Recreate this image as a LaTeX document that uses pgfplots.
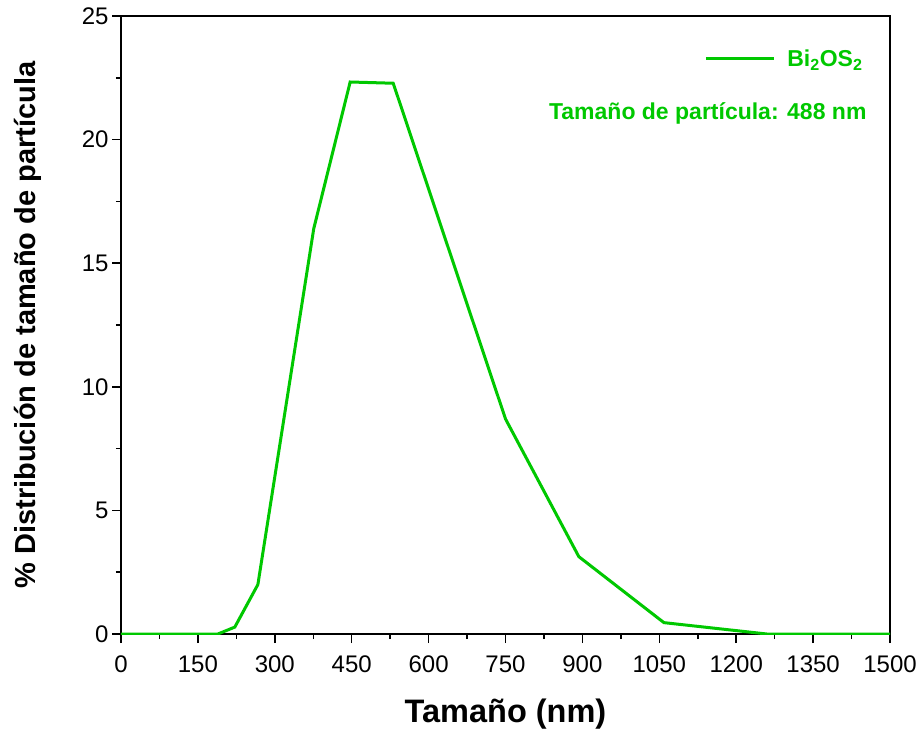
\documentclass[border=0pt]{standalone}
\usepackage{fontspec}
\setmainfont{Liberation Sans}
\usepackage{pgfplots}
\pgfplotsset{compat=1.18}
\usetikzlibrary{calc}
\definecolor{lgreen}{RGB}{0,200,0}

\begin{document}
\begin{tikzpicture}
\begin{axis}[
    name=ax,
    scale only axis,
    width=769pt, height=618pt,
    xmin=0, xmax=1500, ymin=0, ymax=25,
    xtick={0,150,...,1500},
    ytick={0,5,...,25},
    minor x tick num=1,
    minor y tick num=1,
    tick align=outside,
    xtick pos=bottom, ytick pos=left,
    major tick length=9pt, minor tick length=5pt,
    tick style={black, line width=1.5pt},
    axis line style={line width=1.5pt},
    /pgf/number format/assume math mode=true,
    /pgf/number format/1000 sep={},
    ticklabel style={font=\fontsize{24}{26}\selectfont},
    xticklabel style={yshift=-9pt},
    xlabel={\textbf{Tamaño (nm)}},
    ylabel={\textbf{\% Distribución de tamaño de partícula}},
    xlabel style={font=\fontsize{32.5}{34}\selectfont},
    ylabel style={font=\fontsize{29}{32}\selectfont},
    xlabel shift=20pt,
    ylabel shift=33pt,
    legend style={at={(rel axis cs:0.971,0.952)}, anchor=north east, draw=none, fill=none,
        font=\fontsize{23}{25}\selectfont\bfseries, text=lgreen},
    legend cell align=left,
    legend image code/.code={\draw[#1] (0pt,0pt) -- (68pt,0pt); \path (78pt,0pt);},
]
\addplot[lgreen, line width=3pt] coordinates {
    (0,0) (189,0) (222,0.28) (267,2.0) (376,16.4) (447,22.33) (531,22.28)
    (750,8.7) (893,3.13) (1059,0.46) (1260,0) (1500,0)
};
\addlegendentry{Bi\textsubscript{2}OS\textsubscript{2}}
\node[anchor=east, text=lgreen, font=\fontsize{23}{25}\selectfont\bfseries]
    at (rel axis cs:0.974,0.842) {Tamaño de partícula: 488 nm};
\end{axis}
\pgfresetboundingbox
\path[use as bounding box] ($(ax.south west)+(-121pt,-95pt)$) rectangle ($(ax.north east)+(33pt,16pt)$);
\end{tikzpicture}
\end{document}
